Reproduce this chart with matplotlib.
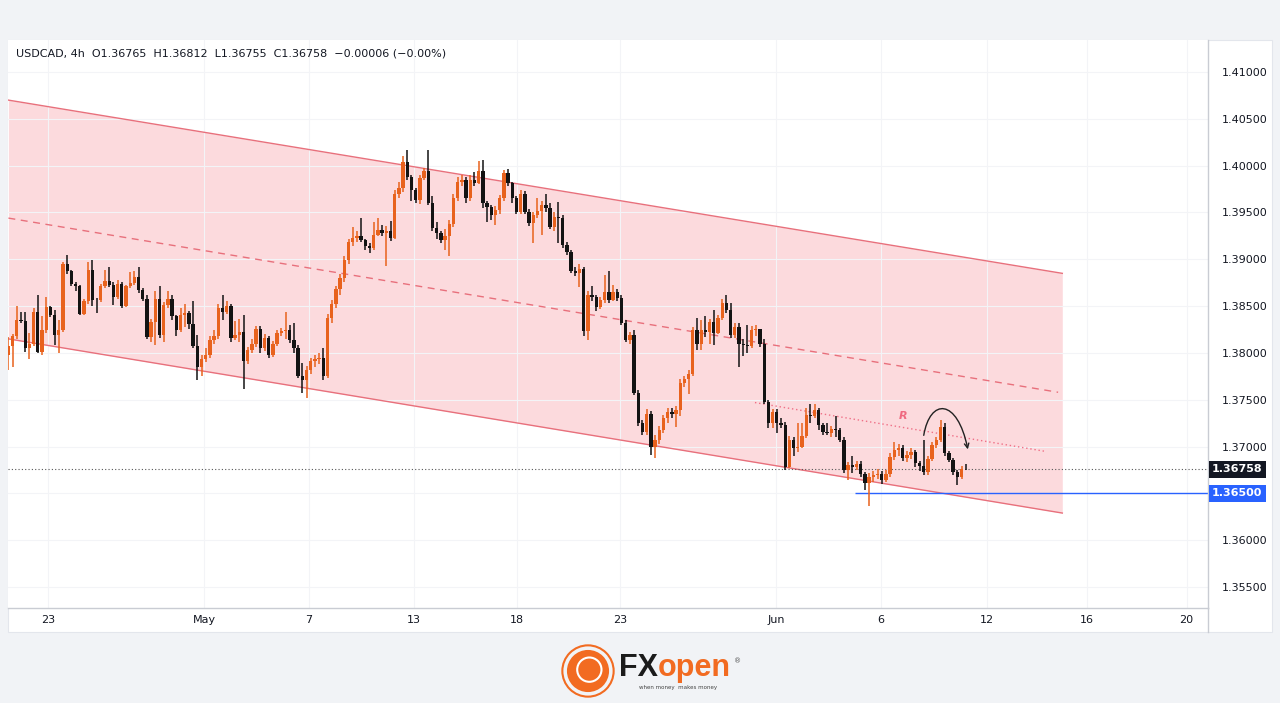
import matplotlib.pyplot as plt
import numpy as np
from matplotlib.patches import Rectangle, FancyArrowPatch, Circle
from matplotlib.path import Path
from matplotlib.lines import Line2D

# USDCAD 4h candles (open = previous close)
first_open = 1.3798
closes = [
    # Apr 21 - Apr 28
    1.3807, 1.3818, 1.3835, 1.3834, 1.3805, 1.3810, 1.3844, 1.3801, 1.3825, 1.3849,
    1.3841, 1.3819, 1.3824, 1.3895, 1.3887, 1.3874, 1.3871, 1.3842, 1.3855, 1.3889,
    1.3857, 1.3856, 1.3871, 1.3877, 1.3873, 1.3860, 1.3874, 1.3850, 1.3871, 1.3875,
    1.3881, 1.3867, 1.3858, 1.3817, 1.3833, 1.3858, 1.3819, 1.3851, 1.3858,
    # Apr 28 - May 8
    1.3839, 1.3825, 1.3840, 1.3843, 1.3831, 1.3807, 1.3785, 1.3794, 1.3798, 1.3814,
    1.3818, 1.3848, 1.3844, 1.3850, 1.3816, 1.3819, 1.3822, 1.3791, 1.3803, 1.3810,
    1.3826, 1.3805, 1.3816, 1.3798, 1.3810, 1.3821, 1.3823, 1.3825, 1.3814, 1.3805,
    1.3775, 1.3771, 1.3782, 1.3791, 1.3794, 1.3795, 1.3775, 1.3837,
    1.3852, 1.3868, 1.3880, 1.3899, 1.3919,
    # May 9 - May 19
    1.3923, 1.3925, 1.3921, 1.3914, 1.3912, 1.3926, 1.3931, 1.3928, 1.3930, 1.3923,
    1.3970, 1.3976, 1.4004, 1.3988, 1.3974, 1.3963, 1.3987, 1.3994, 1.3960, 1.3933,
    1.3928, 1.3921, 1.3925, 1.3938, 1.3965, 1.3983, 1.3985, 1.3965, 1.3985, 1.3982,
    1.3994, 1.3960, 1.3956,
    # May 19 - May 26
    1.3947, 1.3953, 1.3965, 1.3992, 1.3981, 1.3965, 1.3951, 1.3970, 1.3951, 1.3939,
    1.3947, 1.3952, 1.3958, 1.3955, 1.3935, 1.3945, 1.3944, 1.3915, 1.3908, 1.3888,
    1.3885, 1.3890, 1.3823, 1.3862, 1.3860, 1.3849, 1.3856, 1.3865, 1.3857, 1.3865,
    1.3859, 1.3832, 1.3814, 1.3819, 1.3757,
    # May 26 - Jun 2
    1.3725, 1.3716, 1.3735, 1.3700, 1.3707, 1.3718, 1.3730, 1.3737, 1.3735, 1.3739,
    1.3768, 1.3772, 1.3777, 1.3825, 1.3810, 1.3825, 1.3822, 1.3833, 1.3821, 1.3837,
    1.3853, 1.3846, 1.3819, 1.3828, 1.3810, 1.3808, 1.3807, 1.3824, 1.3826, 1.3810,
    1.3748, 1.3725,
    # Jun 2 - Jun 5
    1.3737, 1.3725, 1.3723, 1.3678, 1.3707, 1.3698, 1.3700, 1.3711, 1.3734, 1.3733,
    1.3739, 1.3723, 1.3716, 1.3714, 1.3719, 1.3718, 1.3707, 1.3675, 1.3680, 1.3678,
    # Jun 5 - Jun 11
    1.3681, 1.3671, 1.3661, 1.3668, 1.3670, 1.3671, 1.3664, 1.3671, 1.3689, 1.3696,
    1.3699, 1.3688, 1.3691, 1.3694, 1.3682, 1.3679, 1.3673, 1.3687, 1.3702, 1.3707,
    1.3721, 1.3693, 1.3686, 1.3673, 1.3668, 1.36765, 1.36758,
]
highs = [
    1.3817, 1.3820, 1.3850, 1.3844, 1.3844, 1.3821, 1.3848, 1.3862, 1.3839, 1.3860,
    1.3850, 1.3846, 1.3835, 1.3897, 1.3905, 1.3889, 1.3876, 1.3873, 1.3858, 1.3897,
    1.3899, 1.3859, 1.3874, 1.3889, 1.3892, 1.3876, 1.3878, 1.3876, 1.3873, 1.3886,
    1.3887, 1.3892, 1.3869, 1.3862, 1.3836, 1.3866, 1.3871, 1.3854, 1.3866,
    1.3862, 1.3840, 1.3848, 1.3852, 1.3845, 1.3855, 1.3819, 1.3798, 1.3805, 1.3818,
    1.3825, 1.3852, 1.3862, 1.3855, 1.3852, 1.3834, 1.3836, 1.3840, 1.3806, 1.3815,
    1.3829, 1.3829, 1.3820, 1.3818, 1.3813, 1.3825, 1.3827, 1.3844, 1.3830, 1.3832,
    1.3808, 1.3789, 1.3786, 1.3795, 1.3798, 1.3800, 1.3805, 1.3842,
    1.3856, 1.3872, 1.3884, 1.3903, 1.3922,
    1.3934, 1.3930, 1.3944, 1.3922, 1.3917, 1.3940, 1.3944, 1.3937, 1.3936, 1.3941,
    1.3974, 1.3983, 1.4010, 1.4017, 1.3990, 1.3976, 1.3990, 1.3998, 1.4017, 1.3968,
    1.3940, 1.3930, 1.3932, 1.3942, 1.3970, 1.3988, 1.3990, 1.3988, 1.3990, 1.3993,
    1.4005, 1.4006, 1.3962,
    1.3958, 1.3957, 1.3969, 1.3995, 1.3996, 1.3983, 1.3968, 1.3974, 1.3973, 1.3954,
    1.3951, 1.3965, 1.3962, 1.3970, 1.3960, 1.3950, 1.3961, 1.3947, 1.3918, 1.3910,
    1.3892, 1.3895, 1.3892, 1.3866, 1.3872, 1.3862, 1.3860, 1.3883, 1.3888, 1.3873,
    1.3868, 1.3862, 1.3835, 1.3822, 1.3825,
    1.3760, 1.3728, 1.3740, 1.3738, 1.3712, 1.3722, 1.3734, 1.3741, 1.3741, 1.3743,
    1.3772, 1.3775, 1.3782, 1.3828, 1.3837, 1.3835, 1.3839, 1.3836, 1.3846, 1.3840,
    1.3858, 1.3862, 1.3853, 1.3832, 1.3832, 1.3815, 1.3830, 1.3829, 1.3830, 1.3824,
    1.3815, 1.3750,
    1.3740, 1.3740, 1.3730, 1.3726, 1.3711, 1.3710, 1.3725, 1.3725, 1.3741, 1.3745,
    1.3745, 1.3741, 1.3725, 1.3725, 1.3722, 1.3733, 1.3720, 1.3710, 1.3684, 1.3690,
    1.3685, 1.3685, 1.3673, 1.3672, 1.3674, 1.3676, 1.3674, 1.3675, 1.3693, 1.3705,
    1.3703, 1.3702, 1.3695, 1.3698, 1.3696, 1.3685, 1.3707, 1.3690, 1.3705, 1.3710,
    1.3728, 1.3725, 1.3695, 1.3688, 1.3675, 1.3679, 1.36812,
]
lows = [
    1.3782, 1.3785, 1.3815, 1.3832, 1.3801, 1.3794, 1.3807, 1.3800, 1.3798, 1.3821,
    1.3838, 1.3809, 1.3800, 1.3822, 1.3884, 1.3872, 1.3866, 1.3840, 1.3840, 1.3852,
    1.3850, 1.3843, 1.3854, 1.3869, 1.3870, 1.3851, 1.3858, 1.3848, 1.3849, 1.3869,
    1.3873, 1.3864, 1.3855, 1.3815, 1.3812, 1.3809, 1.3816, 1.3812, 1.3848,
    1.3835, 1.3818, 1.3822, 1.3828, 1.3826, 1.3805, 1.3771, 1.3775, 1.3790, 1.3795,
    1.3810, 1.3815, 1.3835, 1.3842, 1.3812, 1.3814, 1.3812, 1.3761, 1.3788, 1.3800,
    1.3806, 1.3800, 1.3802, 1.3795, 1.3796, 1.3807, 1.3818, 1.3815, 1.3811, 1.3800,
    1.3773, 1.3757, 1.3752, 1.3778, 1.3785, 1.3788, 1.3771, 1.3773,
    1.3832, 1.3848, 1.3862, 1.3876, 1.3895,
    1.3914, 1.3918, 1.3918, 1.3910, 1.3907, 1.3910, 1.3925, 1.3925, 1.3893, 1.3920,
    1.3922, 1.3965, 1.3972, 1.3985, 1.3962, 1.3960, 1.3959, 1.3985, 1.3958, 1.3930,
    1.3922, 1.3917, 1.3910, 1.3903, 1.3935, 1.3962, 1.3978, 1.3960, 1.3962, 1.3978,
    1.3980, 1.3955, 1.3940,
    1.3942, 1.3937, 1.3948, 1.3962, 1.3978, 1.3960, 1.3948, 1.3948, 1.3948, 1.3936,
    1.3917, 1.3944, 1.3926, 1.3950, 1.3932, 1.3930, 1.3917, 1.3912, 1.3905, 1.3885,
    1.3882, 1.3870, 1.3818, 1.3814, 1.3855, 1.3845, 1.3847, 1.3853, 1.3853, 1.3855,
    1.3855, 1.3830, 1.3812, 1.3810, 1.3755,
    1.3722, 1.3712, 1.3712, 1.3691, 1.3688, 1.3703, 1.3715, 1.3725, 1.3730, 1.3721,
    1.3733, 1.3764, 1.3756, 1.3775, 1.3803, 1.3803, 1.3817, 1.3810, 1.3809, 1.3820,
    1.3835, 1.3843, 1.3816, 1.3816, 1.3785, 1.3797, 1.3800, 1.3805, 1.3818, 1.3806,
    1.3745, 1.3720,
    1.3720, 1.3714, 1.3720, 1.3675, 1.3677, 1.3690, 1.3694, 1.3698, 1.3709, 1.3725,
    1.3731, 1.3718, 1.3712, 1.3712, 1.3710, 1.3710, 1.3705, 1.3672, 1.3664, 1.3672,
    1.3675, 1.3668, 1.3654, 1.3636, 1.3662, 1.3665, 1.3660, 1.3662, 1.3668, 1.3686,
    1.3690, 1.3685, 1.3684, 1.3687, 1.3678, 1.3674, 1.3670, 1.3670, 1.3685, 1.3699,
    1.3705, 1.3690, 1.3683, 1.3670, 1.3659, 1.3665, 1.36755,
]

# time axis labels (positions in bar units)
time_labels = ['23', 'May', '7', '13', '18', '23', 'Jun', '6', '12', '16', '20']
time_pos = [9.5, 46.6, 71.6, 96.6, 121.1, 145.6, 182.8, 207.8, 233.0, 256.8, 280.6]
price_ticks = [1.355, 1.360, 1.365, 1.370, 1.375, 1.380, 1.385, 1.390, 1.395, 1.400, 1.405, 1.410]

# drawings
chan_x = [0, 251]
chan_upper = [1.4070, 1.3885]
chan_lower = [1.3815, 1.3629]
mid_x = [0, 250]
mid_y = [1.3944, 1.3758]
r_x = [177.8, 246.8]
r_y = [1.3747, 1.3695]
support = 1.3650
support_start = 201.6
last_price = 1.36758

UP = '#e8621d'
DOWN = '#131313'
CH = '#e8707c'

fig = plt.figure(figsize=(12.8, 7.03), dpi=100)
fig.patch.set_facecolor('#f1f3f6')
W, H = 1280, 703
fig.patches.append(Rectangle((8 / W, (H - 632) / H), 1264 / W, 592 / H,
                             transform=fig.transFigure, fc='white', ec='#e3e6ec', lw=0.8, zorder=-5))

ax = fig.add_axes([8 / W, (H - 608) / H, 1200 / W, 568 / H])
ax.set_zorder(2)
ax.set_facecolor('white')
xmax = 285.7
ax.set_xlim(-0.1, xmax)
ax.set_ylim(1.35276, 1.41342)

# channel
ax.fill_between(chan_x, chan_lower, chan_upper, color='#f23645', alpha=0.18, lw=0, zorder=1)
ax.plot(chan_x, chan_upper, color=CH, lw=1, zorder=2)
ax.plot(chan_x, chan_lower, color=CH, lw=1, zorder=2)
ax.plot(mid_x, mid_y, color=CH, lw=1, ls=(0, (5, 4)), zorder=2)
ax.plot(r_x, r_y, color='#ef6f86', lw=1, ls=(0, (1, 2)), zorder=2)
ax.text(213, 1.3733, 'R', color='#ef6a80', fontsize=8, fontweight='bold', style='italic',
        ha='center', va='center', zorder=5)

# candles
c = np.array(closes)
o = np.array([first_open] + closes[:-1])
h = np.array(highs)
l = np.array(lows)
x = np.arange(len(c))
cols = np.where(c >= o, UP, DOWN)
ax.vlines(x, l, h, colors=cols, lw=1.1, zorder=3)
bot = np.minimum(o, c)
hgt = np.maximum(np.abs(c - o), 0.00003)
ax.bar(x, hgt, bottom=bot, width=0.8, color=cols, lw=0, zorder=4)

# price lines
ax.axhline(last_price, color='#555555', lw=0.8, ls=(0, (1, 2)), zorder=2)
ax.hlines(support, support_start, xmax, color='#2962ff', lw=1, zorder=2)

# arc arrow
verts = [(218, 1.3712), (219.5, 1.3752), (226, 1.3752), (228.5, 1.3697)]
arc = FancyArrowPatch(path=Path(verts, [Path.MOVETO, Path.CURVE4, Path.CURVE4, Path.CURVE4]),
                      arrowstyle='->', mutation_scale=8, color='#222222', lw=1, zorder=6)
ax.add_patch(arc)

# axes styling
ax.set_xticks(time_pos)
ax.set_xticklabels(time_labels)
ax.set_yticks(price_ticks)
# the 1.36500 tick sits under the blue support label
ax.set_yticklabels(['' if abs(p - support) < 1e-9 else f'{p:.5f}' for p in price_ticks])
ax.yaxis.tick_right()
ax.tick_params(axis='y', length=0, pad=10, labelsize=8, labelcolor='#131722')
ax.tick_params(axis='x', length=0, pad=5, labelsize=8, labelcolor='#131722')
ax.grid(True, color='#f3f4f7', lw=0.8, zorder=0)
for s in ['top', 'left']:
    ax.spines[s].set_visible(False)
for s in ['right', 'bottom']:
    ax.spines[s].set_color('#c9ccd3')
    ax.spines[s].set_linewidth(1)
fig.add_artist(Line2D([1208 / W, 1208 / W], [(H - 632) / H, (H - 608) / H],
                      transform=fig.transFigure, color='#c9ccd3', lw=1))

# price labels on the axis
ax.annotate(f'{last_price:.5f}', xy=(1, last_price), xycoords=('axes fraction', 'data'),
            xytext=(3, 0), textcoords='offset points', ha='left', va='center',
            fontsize=8, fontweight='bold', color='white',
            bbox=dict(boxstyle='square,pad=0.3', fc='#131722', ec='none'), annotation_clip=False)
ax.annotate(f'{support:.5f}', xy=(1, support), xycoords=('axes fraction', 'data'),
            xytext=(3, 0), textcoords='offset points', ha='left', va='center',
            fontsize=8, fontweight='bold', color='white',
            bbox=dict(boxstyle='square,pad=0.3', fc='#2962ff', ec='none'), annotation_clip=False)

# header
fig.text(16 / W, 1 - 53 / H,
         'USDCAD, 4h  O1.36765  H1.36812  L1.36755  C1.36758  \u22120.00006 (\u22120.00%)',
         fontsize=8, color='#131722', va='center', ha='left', zorder=10)

# logo
lax = fig.add_axes([561 / W, (H - 698) / H, 54 / W, 54 / H])
lax.set_xlim(-1, 1)
lax.set_ylim(-1, 1)
lax.set_aspect('equal')
lax.axis('off')
lax.add_patch(Circle((0, 0), 0.95, fill=False, ec='#f26b21', lw=1.5))
lax.add_patch(Circle((0, 0), 0.78, fc='#f26b21', ec='none'))
lax.add_patch(Circle((0.05, 0.05), 0.45, fill=False, ec='white', lw=1.5))
fig.text(619 / W, 1 - 668 / H, 'FX', fontsize=22, fontweight='bold', color='#1b1b1b',
         family='Liberation Sans', va='center', ha='left')
fig.text(658 / W, 1 - 668 / H, 'open', fontsize=22, fontweight='bold', color='#f26b21',
         family='Liberation Sans', va='center', ha='left')
fig.text(738 / W, 1 - 661 / H, '\u00ae', fontsize=5, color='#555555', va='center', ha='center')
fig.text(678 / W, 1 - 687 / H, 'when money  makes money', fontsize=4, color='#444444',
         va='center', ha='center')

fig.savefig('out.png', dpi=100, facecolor=fig.get_facecolor())
